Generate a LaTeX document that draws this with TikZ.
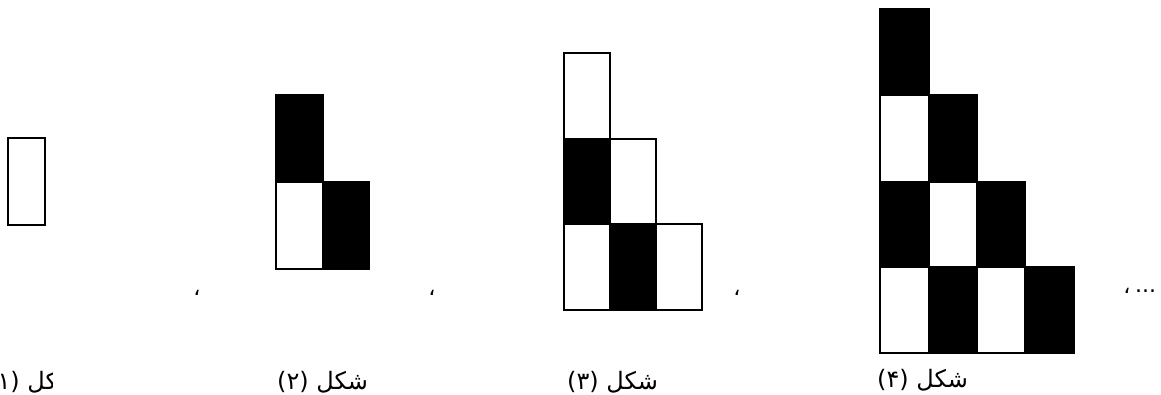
\documentclass[tikz,border=0pt]{standalone}
\usepackage{fontspec}
\newfontfamily\arabicfont[Script=Arabic]{DejaVu Sans}
\TeXXeTstate=1
\begin{document}
\begin{tikzpicture}[x=1pt,y=-1pt,
  cell/.style={draw=black,line width=1.6pt},
  blk/.style={cell,fill=black},
  wht/.style={cell,fill=white},
  lbl/.style={font=\arabicfont\fontsize{24}{28}\selectfont,inner sep=0pt},
  sep/.style={font=\arabicfont\fontsize{22}{26}\selectfont,inner sep=0pt}]
\useasboundingbox (0,0) rectangle (1161,394);
% figure 1
\draw[wht] (8,138) rectangle (45,225);
% figure 2
\draw[blk] (276,95) rectangle (323,182);
\draw[wht] (276,182) rectangle (323,269);
\draw[blk] (323,182) rectangle (369,269);
% figure 3
\draw[wht] (564,53) rectangle (610,139);
\draw[blk] (564,139) rectangle (610,224);
\draw[wht] (610,139) rectangle (656,224);
\draw[wht] (564,224) rectangle (610,310);
\draw[blk] (610,224) rectangle (656,310);
\draw[wht] (656,224) rectangle (702,310);
% figure 4
\draw[blk] (880,9) rectangle (929,95);
\draw[wht] (880,95) rectangle (929,182);
\draw[blk] (929,95) rectangle (977,182);
\draw[blk] (880,182) rectangle (929,267);
\draw[wht] (929,182) rectangle (977,267);
\draw[blk] (977,182) rectangle (1025,267);
\draw[wht] (880,267) rectangle (929,353);
\draw[blk] (929,267) rectangle (977,353);
\draw[wht] (977,267) rectangle (1025,353);
\draw[blk] (1025,267) rectangle (1074,353);
% separators
\node[sep] (c1) at (197,293) {،};
\node[sep] (c2) at (432,293) {،};
\node[sep] (c3) at (737,293) {،};
\node[sep] (c4) at (1127,291) {،};
\node[sep,anchor=west] (dots) at (1135,291) {...};
% labels
\node[lbl,anchor=west] (l1) at (-12,382) {\beginR شکل (۱)\endR};
\fill[white] (53,358) rectangle (120,394);
\node[lbl,anchor=west] (l2) at (277,382) {\beginR شکل (۲)\endR};
\node[lbl,anchor=west] (l3) at (567,382) {\beginR شکل (۳)\endR};
\node[lbl,anchor=west] (l4) at (877,380) {\beginR شکل (۴)\endR};
\end{tikzpicture}
\end{document}
